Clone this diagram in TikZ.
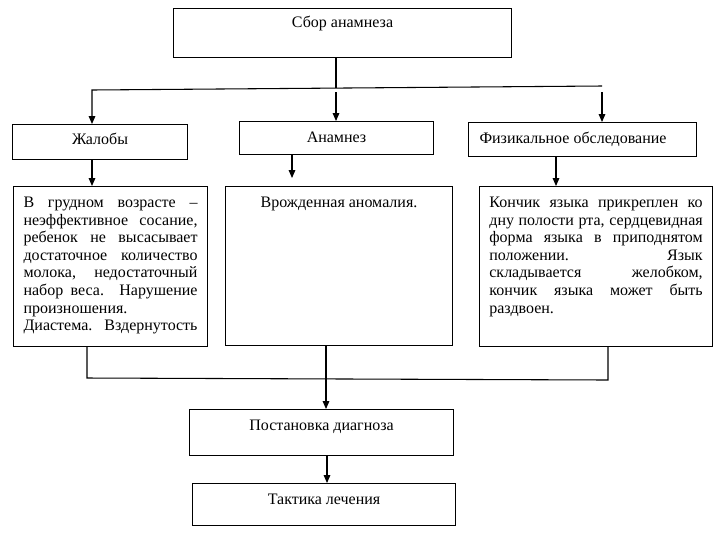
\documentclass[tikz,border=0pt]{standalone}
\usepackage{fontspec}
\setmainfont{Liberation Serif}
\usetikzlibrary{arrows.meta}
\newcommand{\boxtxt}[5]{\parbox[c][#1][t]{#2}{#3\vspace*{#4}\strut #5}}
\newcommand{\jline}[2]{\makebox[#1][s]{#2}}
\tikzset{
  bx/.style={draw, line width=0.8pt, inner sep=0pt, anchor=north west, font=\fontsize{12}{13.2}\selectfont},
  arr/.style={line width=0.8pt, -{Triangle[length=6pt,width=5pt]}},
  ln/.style={line width=0.8pt}
}
\begin{document}
\begin{tikzpicture}[x=0.75pt,y=-0.75pt]
\useasboundingbox (0,0) rectangle (723,533);
% boxes
\node[bx, minimum width=253.5pt, minimum height=36.75pt] (top) at (173,8)
  {\boxtxt{36.75pt}{253.5pt}{\centering}{5pt}{Сбор анамнеза}};
\node[bx, minimum width=131.25pt, minimum height=26.25pt] (zhal) at (12,124)
  {\boxtxt{26.25pt}{131.25pt}{\centering}{5.8pt}{Жалобы}};
\node[bx, minimum width=145.5pt, minimum height=24.75pt] (anam) at (239,121)
  {\boxtxt{24.75pt}{145.5pt}{\centering}{6.2pt}{Анамнез}};
\node[bx, minimum width=171pt, minimum height=25.5pt] (fiz) at (468,122)
  {\boxtxt{25.5pt}{154.5pt}{\raggedright}{6.2pt}{Физикальное обследование}};
\node[bx, minimum width=145.5pt, minimum height=120pt] (lbox) at (13,186)
  {\boxtxt{120pt}{130.5pt}{\raggedright}{6.5pt}{%
   \jline{130.5pt}{В грудном возрасте –}\\
   \jline{130.5pt}{неэффективное сосание,}\\
   \jline{130.5pt}{ребенок не высасывает}\\
   \jline{130.5pt}{достаточное количество}\\
   \jline{130.5pt}{молока, недостаточный}\\
   \jline{130.5pt}{набор веса. Нарушение}\\
   произношения.\\
   \jline{130.5pt}{Диастема. Вздернутость}}};
\node[bx, minimum width=170.25pt, minimum height=119.25pt] (mbox) at (225,186)
  {\boxtxt{119.25pt}{170.25pt}{\centering}{6.5pt}{Врожденная аномалия.}};
\node[bx, minimum width=174.75pt, minimum height=120pt] (rbox) at (479,186)
  {\boxtxt{120pt}{160pt}{\raggedright}{6.5pt}{%
   \jline{160pt}{Кончик языка прикреплен ко}\\
   \jline{160pt}{дну полости рта, сердцевидная}\\
   \jline{160pt}{форма языка в приподнятом}\\
   \jline{160pt}{положении. Язык}\\
   \jline{160pt}{складывается желобком,}\\
   \jline{160pt}{кончик языка может быть}\\
   раздвоен.}};
\node[bx, minimum width=198pt, minimum height=34.5pt] (diag) at (189,409)
  {\boxtxt{34.5pt}{198pt}{\centering}{6.5pt}{Постановка диагноза}};
\node[bx, minimum width=197.25pt, minimum height=31.5pt] (tact) at (192,483)
  {\boxtxt{31.5pt}{197.25pt}{\centering}{6.5pt}{Тактика лечения}};
% connector coordinates
\coordinate (jl) at (92,90);
\coordinate (jm) at (336,88);
\coordinate (jr) at (602,86);
\coordinate (am) at (336,92);
\coordinate (ar) at (602,92);
\coordinate (bm) at (292,178);
\coordinate (br) at (556,0);
\coordinate (kl) at (87,378);
\coordinate (kr) at (608,380);
\coordinate (km) at (326,0);
\coordinate (dm) at (327,0);
% connectors
\draw[ln] (top.south -| jm) -- (jm);
\draw[arr] (jr) -- (jl) -- (jl |- zhal.north);
\draw[arr] (am) -- (am |- anam.north);
\draw[arr] (ar) -- (ar |- fiz.north);
\draw[arr] (zhal.south -| jl) -- (lbox.north -| jl);
\draw[arr] (anam.south -| bm) -- (bm);
\draw[arr] (fiz.south -| br) -- (rbox.north -| br);
\draw[ln] (lbox.south -| kl) -- (kl) -- (kr) -- (rbox.south -| kr);
\draw[arr] (mbox.south -| km) -- (diag.north -| km);
\draw[arr] (diag.south -| dm) -- (tact.north -| dm);
\end{tikzpicture}
\end{document}
